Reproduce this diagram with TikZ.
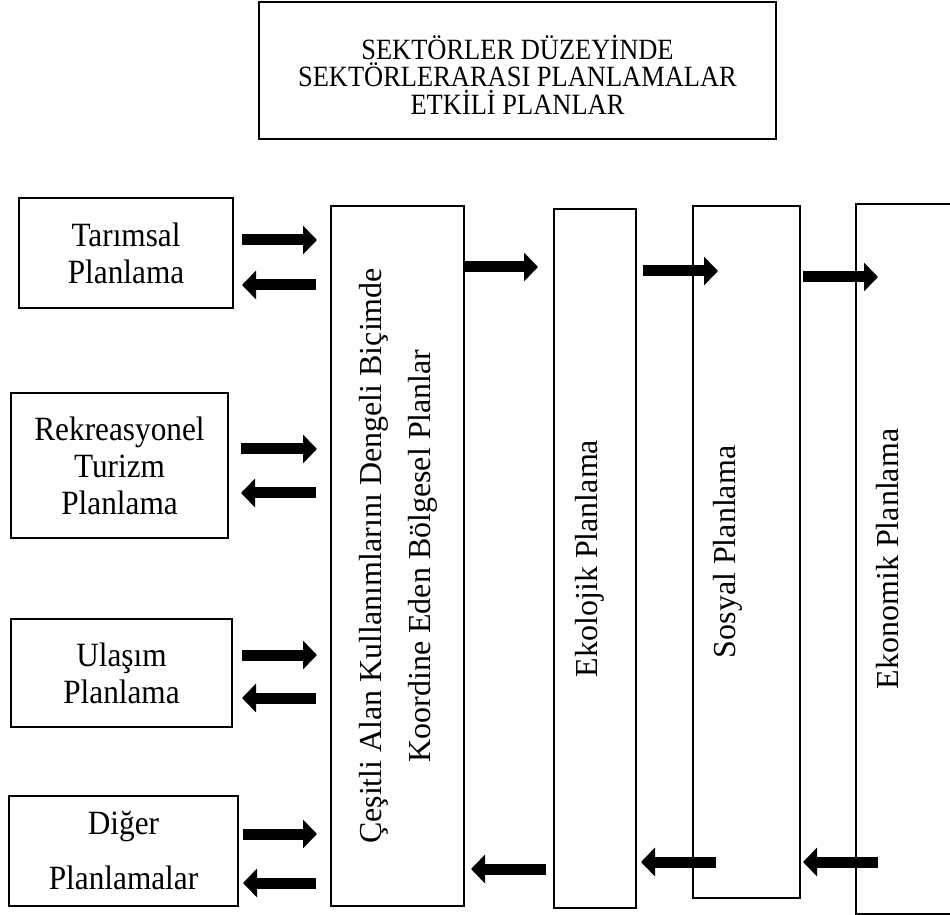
\documentclass[tikz,border=0pt]{standalone}
\usepackage{fontspec}
\setmainfont{Liberation Serif}
\newfontfamily\narrowserif[FakeStretch=0.92]{Liberation Serif}
\newfontfamily\titleserif[FakeStretch=0.9]{Liberation Serif}
\usetikzlibrary{arrows.meta}

\tikzset{
  plan/.style={draw, line width=1pt, align=center, inner sep=0pt, font=\narrowserif\fontsize{17}{18.5}\selectfont},
  tall/.style={draw, line width=1pt, inner sep=0pt},
  vtext/.style={rotate=90, align=center, inner sep=0pt, font=\fontsize{16}{24.8}\selectfont},
  blockarrow/.style={line width=5.5pt, -{Triangle[length=7pt,width=14pt]}}
}

\begin{document}
\begin{tikzpicture}[x=0.5pt,y=-0.5pt]
\path[use as bounding box] (0,0) rectangle (950,915);
\clip (0,0) rectangle (950,915);

% Title box
\node[draw, line width=1.3pt, minimum width=258.5pt, minimum height=68.5pt] (sektor) at (517.5,70.5) {};
\node[align=center, inner sep=0pt, font=\titleserif\fontsize{14.7}{13.8}\selectfont] (tsektor) at ([yshift=-2pt]sektor.center)
  {SEKTÖRLER DÜZEYİNDE\\SEKTÖRLERARASI PLANLAMALAR\\ETKİLİ PLANLAR};

% Sector plans on the left
\node[plan, minimum width=107pt, minimum height=55pt] (tarim) at (126,253) {Tarımsal\\Planlama};
\node[plan, minimum width=108.5pt, minimum height=72.5pt] (rekre) at (119.5,465.5) {Rekreasyonel\\Turizm\\Planlama};
\node[plan, minimum width=110.5pt, minimum height=54pt] (ulasim) at (121.5,673) {Ulaşım\\Planlama};
\node[plan, minimum width=114.5pt, minimum height=55pt] (diger) at (123.5,851) {Diğer\\[9pt]Planlamalar};

% Tall boxes
\node[tall, minimum width=66.5pt, minimum height=350pt] (koord) at (397.5,556) {};
\node[tall, minimum width=41pt, minimum height=349.5pt] (ekol) at (595,558.5) {};
\node[tall, minimum width=53.5pt, minimum height=346pt] (sosyal) at (746.5,552) {};
\node[tall, minimum width=77pt, minimum height=355pt] (ekon) at (933,559) {};

% Rotated labels
\node[vtext] (tkoord) at ([xshift=0.5pt]koord.center)
  {Çeşitli Alan Kullanımlarını Dengeli Biçimde\\Koordine Eden Bölgesel Planlar};
\node[vtext] (tekol) at ([xshift=-2.5pt]ekol.center) {Ekolojik Planlama};
\node[vtext] (tsosyal) at ([xshift=-9.25pt]sosyal.center) {Sosyal Planlama};
\node[vtext] (tekon) at ([xshift=16.5pt]ekon.west) {Ekonomik Planlama};

% Arrows between left plans and the regional plans
\foreach \n/\up/\dn/\gap in {tarim/6.5/-16/4, rekre/8.25/-13.75/6, ulasim/9/-12.5/4.5, diger/8.5/-16/2}{
  \draw[blockarrow, shorten <=\gap pt, shorten >=6.5pt]
    ([yshift=\up pt]\n.east) -- ([yshift=\up pt]\n.east -| koord.west);
  \draw[blockarrow, shorten <=7pt, shorten >=\gap pt]
    ([yshift=\dn pt]\n.east -| koord.west) -- ([yshift=\dn pt]\n.east);
}

% Arrows along the top
\draw[blockarrow, shorten >=7.5pt] ([yshift=144.5pt]koord.east) -- ([yshift=144.5pt]koord.east -| ekol.west);
\draw[blockarrow, shorten <=3pt, shorten >=-13pt] ([yshift=143.75pt]ekol.east) -- ([yshift=143.75pt]ekol.east -| sosyal.west);
\draw[blockarrow, shorten <=1pt, shorten >=-11.5pt] ([yshift=137.5pt]sosyal.east) -- ([yshift=137.5pt]sosyal.east -| ekon.west);

% Arrows along the bottom
\draw[blockarrow, shorten <=3.5pt, shorten >=3pt] ([yshift=-155.25pt]ekol.west) -- ([yshift=-155.25pt]ekol.west -| koord.east);
\draw[blockarrow, shorten <=-12pt, shorten >=2pt] ([yshift=-155pt]sosyal.west) -- ([yshift=-155pt]sosyal.west -| ekol.east);
\draw[blockarrow, shorten <=-11.5pt, shorten >=1pt] ([yshift=-151.5pt]ekon.west) -- ([yshift=-151.5pt]ekon.west -| sosyal.east);
\end{tikzpicture}
\end{document}
